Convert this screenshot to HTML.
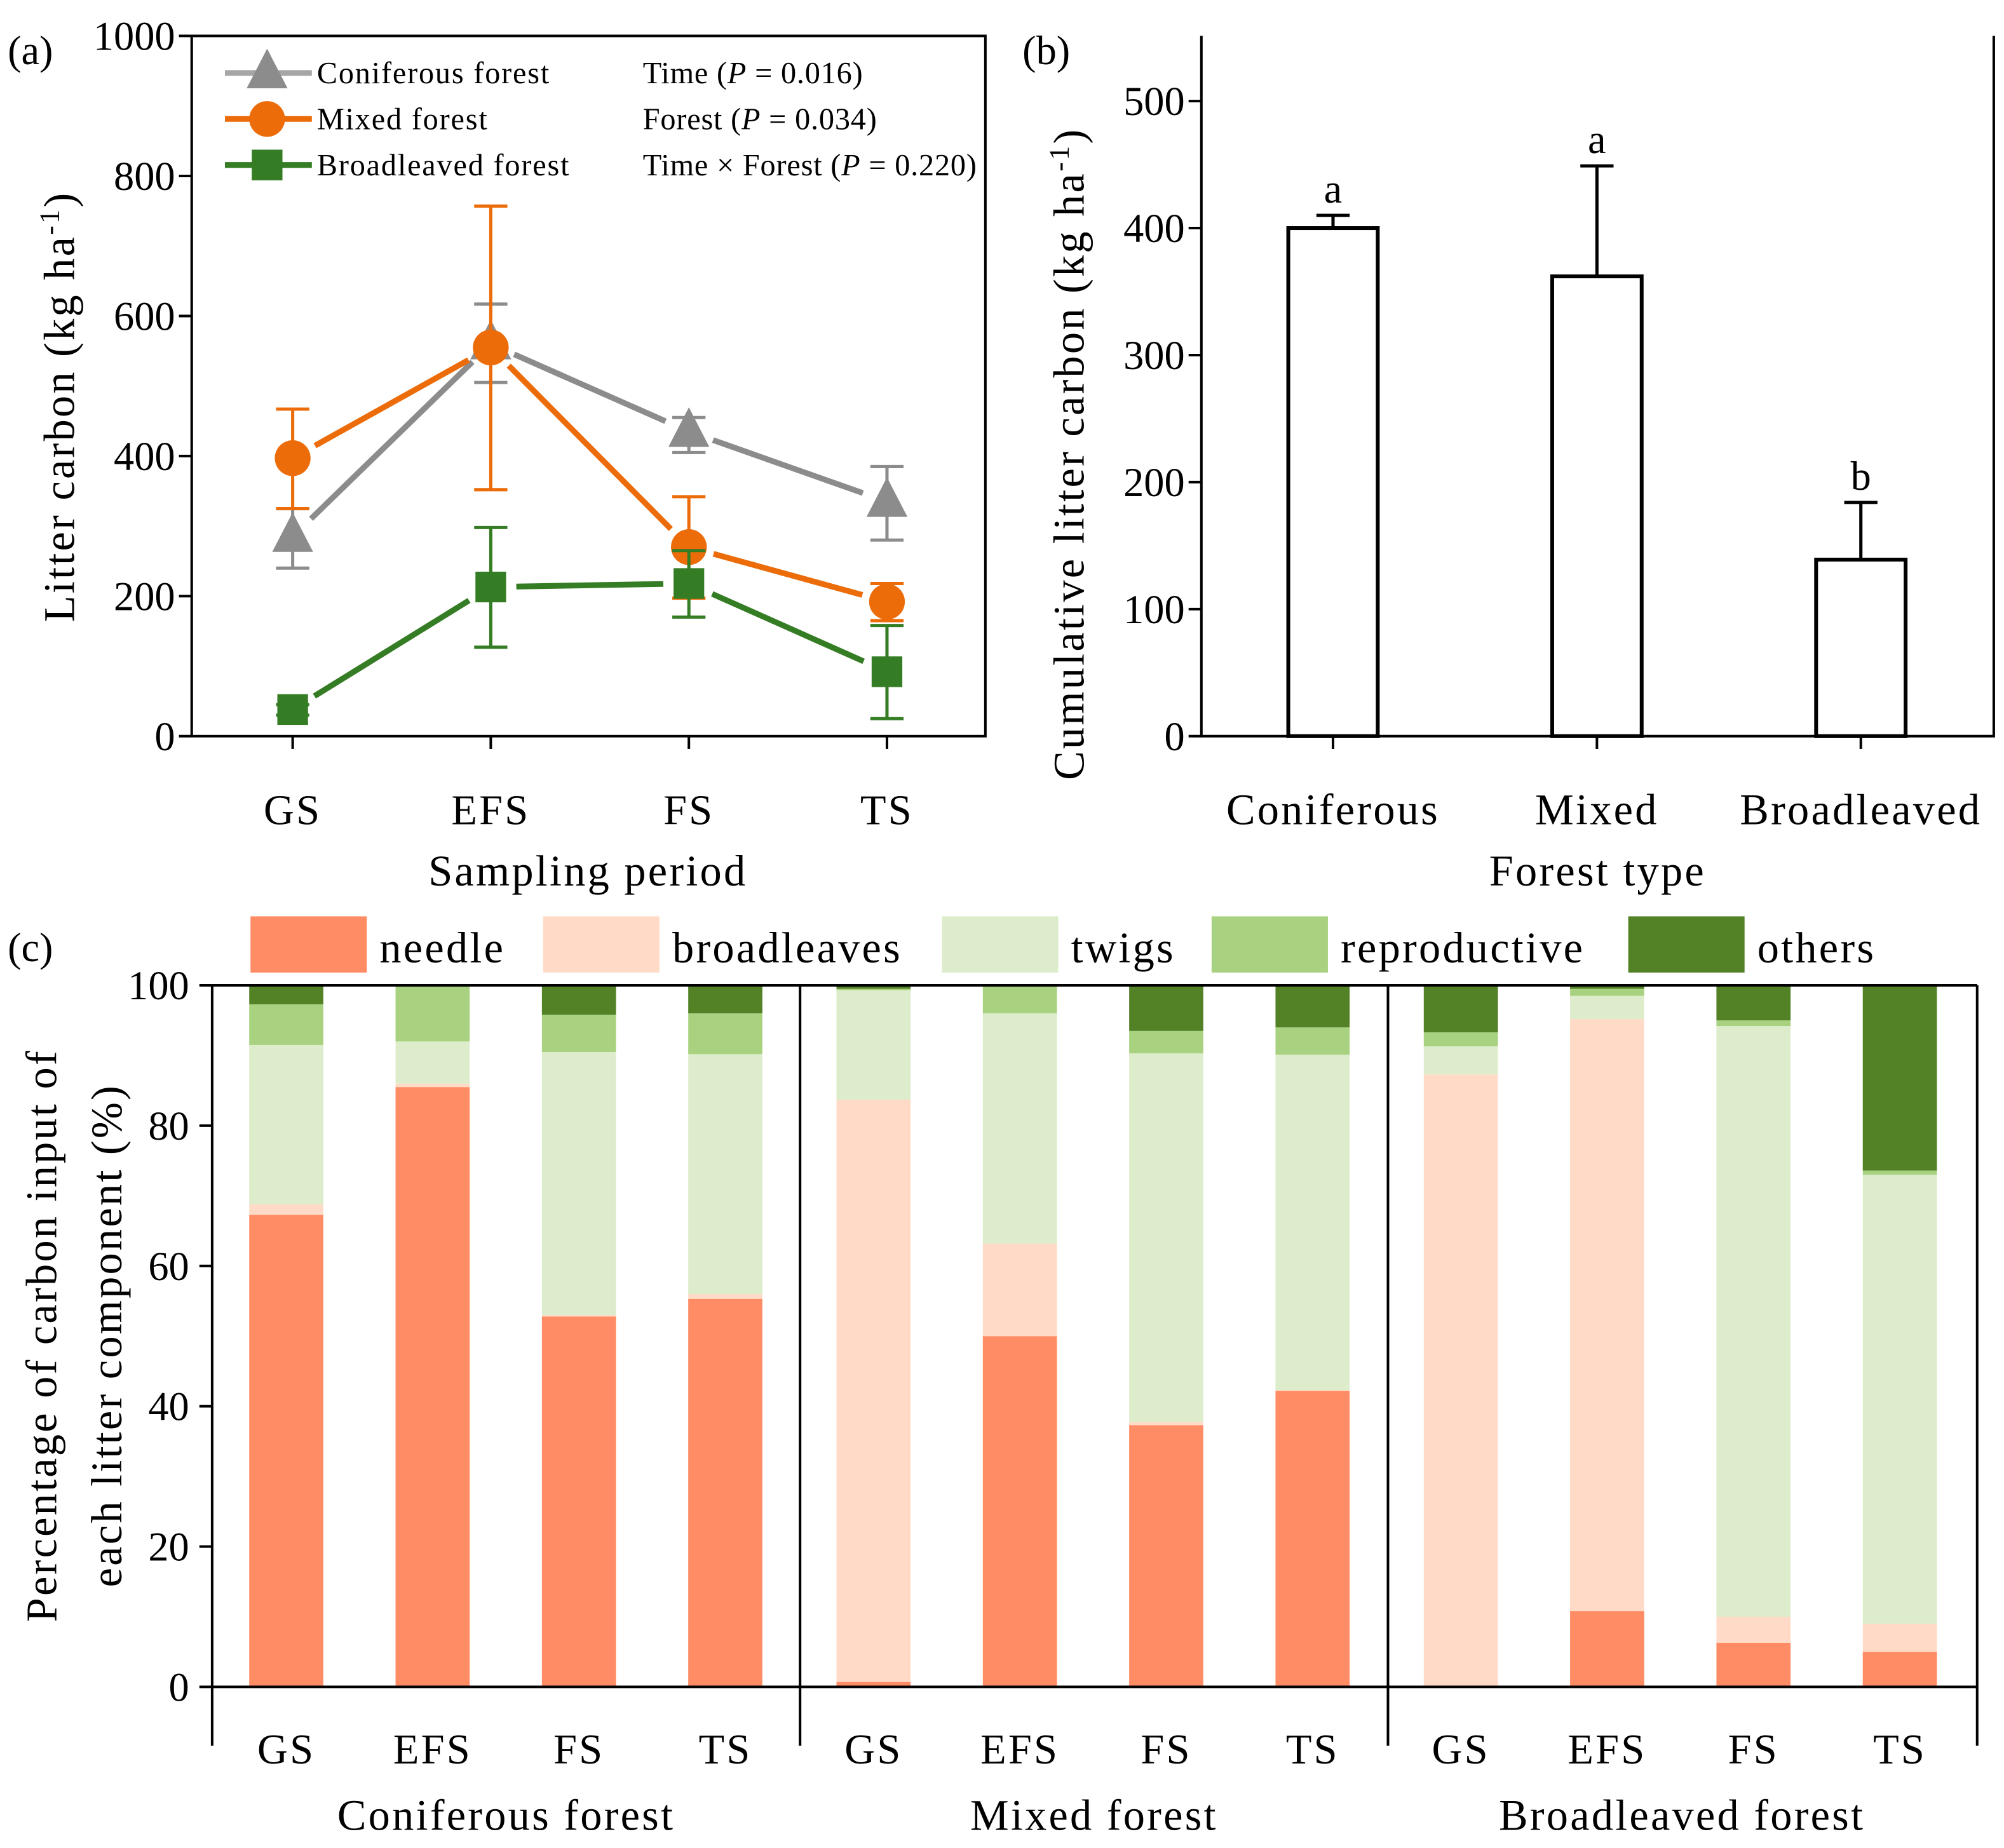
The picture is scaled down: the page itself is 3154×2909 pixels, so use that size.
<!DOCTYPE html>
<html><head><meta charset="utf-8"><style>
html,body{margin:0;padding:0;background:#fff}
svg{display:block}
text{font-family:"Liberation Serif",serif;fill:#000}
.w{letter-spacing:1.6px}
.wl{letter-spacing:0.9px}
.ws{letter-spacing:0.4px}
</style></head><body>
<svg id="fig" width="3154" height="2909" viewBox="0 0 1568 1446" xmlns="http://www.w3.org/2000/svg"></svg>
<script>
// ---- Panel (a) data ----
const periods = ["GS","EFS","FS","TS"];
const conMean = [285,560,435,335];
const conLo = [240,505,405,280];
const conHi = [325,617,455,385];
const mixMean = [397,555,270,192];
const mixLo = [325,352,197,165];
const mixHi = [467,757,342,218];
const broMean = [38,213,218,92];
const broLo = [30,127,170,25];
const broHi = [45,298,265,158];
const aTicks = [0,200,400,600,800,1000];
// ---- Panel (b) data ----
const forestTypes = ["Coniferous","Mixed","Broadleaved"];
const cumMean = [400,362,139];
const cumErr = [410,449,184];
const cumLetters = ["a","a","b"];
const bTicks = [0,100,200,300,400,500];
// ---- Panel (c) data (percent per component) ----
const groups = ["Coniferous forest","Mixed forest","Broadleaved forest"];
const components = ["needle","broadleaves","twigs","reproductive","others"];
const needle =      [67.3,85.5,52.8,55.3, 0.7,50.0,37.3,42.2, 0.0,10.8,6.3,5.0];
const broadleaves = [1.5,0.5,0.2,0.7, 83.0,13.2,0.5,0.1, 87.3,84.4,3.7,4.0];
const twigs =       [22.7,6.0,37.5,34.2, 15.6,32.8,52.5,47.8, 4.0,3.3,84.2,64.0];
const reproductive =[5.8,8.0,5.3,5.8, 0.2,4.0,3.2,3.9, 2.0,1.0,0.8,0.6];
const others =      [2.7,0.0,4.2,4.0, 0.5,0.0,6.5,6.0, 6.7,0.5,5.0,26.4];
const cTicks = [0,20,40,60,80,100];

const svg = document.getElementById('fig');
const NS = "http://www.w3.org/2000/svg";
function mk(tag, attrs, parent){const e=document.createElementNS(NS,tag);for(const k in attrs)e.setAttribute(k,attrs[k]);(parent||svg).appendChild(e);return e;}
function txt(s,x,y,size,anchor,parent,extra){const t=mk('text',Object.assign({x:x,y:y,'font-size':size,'text-anchor':anchor||'middle'},extra||{}),parent);t.textContent=s;return t;}

// ===== Panel (a) =====
const ga = mk('g',{});  
const ax0=150, ax1=771, ay0=28, ay1=576;
const ya = v => ay1 - (v/1000)*(ay1-ay0);
const xa = i => 229 + i*155;
const frameA = mk('rect',{x:ax0,y:ay0,width:ax1-ax0,height:ay1-ay0,fill:'none',stroke:'#000','stroke-width':2},ga);
 
aTicks.forEach(v=>{mk('line',{x1:ax0-10,x2:ax0,y1:ya(v),y2:ya(v),stroke:'#000','stroke-width':2},ga);
  const t=txt(String(v),ax0-13,ya(v)+11,32,'end',ga);  });
periods.forEach((p,i)=>{mk('line',{x1:xa(i),x2:xa(i),y1:ay1,y2:ay1+10,stroke:'#000','stroke-width':2},ga);
  const t=txt(p,xa(i),645,33,'middle',ga,{class:'w'});  });
const axt=txt('Sampling period',460,693,34,'middle',ga,{class:'w'});  
const ayt=txt('',0,0,34,'middle',ga,{transform:'translate(58,318) rotate(-90)',class:'w'});
ayt.innerHTML='Litter carbon (kg ha<tspan dy="-12" font-size="22">-1</tspan><tspan dy="12">)</tspan>';
 
const la=txt('(a)',6,50,32,'start',ga);  

function series(mean,lo,hi,color,shape,name){
  const g=mk('g',{},ga);  
  mean.forEach((m,i)=>{
    mk('line',{x1:xa(i),x2:xa(i),y1:ya(lo[i]),y2:ya(hi[i]),stroke:color,'stroke-width':2.5},g);
    mk('line',{x1:xa(i)-13,x2:xa(i)+13,y1:ya(lo[i]),y2:ya(lo[i]),stroke:color,'stroke-width':2.5},g);
    mk('line',{x1:xa(i)-13,x2:xa(i)+13,y1:ya(hi[i]),y2:ya(hi[i]),stroke:color,'stroke-width':2.5},g);
  });
  for(let i=0;i<mean.length-1;i++){
    const x1=xa(i),y1=ya(mean[i]),x2=xa(i+1),y2=ya(mean[i+1]);
    const dx=x2-x1,dy=y2-y1,L=Math.hypot(dx,dy),r=20;
    mk('line',{x1:x1+dx/L*r,y1:y1+dy/L*r,x2:x2-dx/L*r,y2:y2-dy/L*r,stroke:color,'stroke-width':4.5},g);
  }
  mean.forEach((m,i)=>marker(xa(i),ya(m),color,shape,g));
}
function marker(x,y,color,shape,g){
  if(shape==='tri') mk('polygon',{points:`${x},${y-19} ${x-16},${y+12} ${x+16},${y+12}`,fill:color},g);
  else if(shape==='circ') mk('circle',{cx:x,cy:y,r:14,fill:color},g);
  else mk('rect',{x:x-12,y:y-12,width:24,height:24,fill:color},g);
}
series(conMean,conLo,conHi,'#8c8c8c','tri','coniferous-series');
series(mixMean,mixLo,mixHi,'#ec6c0a','circ','mixed-series');
series(broMean,broLo,broHi,'#357d24','sq','broadleaved-series');
// legend a
const legA=[['Coniferous forest','#8c8c8c','tri','#a6a6a6'],['Mixed forest','#ec6c0a','circ','#ec6c0a'],['Broadleaved forest','#357d24','sq','#357d24']];
const stats=[['Time (','0.016)'],['Forest (','0.034)'],['Time × Forest (','0.220)']];
legA.forEach((l,i)=>{const y=57+i*36;const g=mk('g',{},ga);
  mk('line',{x1:176,x2:244,y1:y,y2:y,stroke:l[3],'stroke-width':4.5},g); marker(209,y,l[1],l[2],g);
  txt(l[0],248,y+8,24,'start',g,{class:'wl'});
  const s=txt('',503,y+8,24,'start',g,{class:'ws'}); s.innerHTML=stats[i][0]+'<tspan font-style="italic">P</tspan> = '+stats[i][1];
   });

// ===== Panel (b) =====
const gb=mk('g',{});  
const bx0=940,bx1=1560,by0=28,by1=576;
const yb=v=>by1-(v/500)*(576-79);
const xb=i=>1043+i*206.5;
mk('polyline',{points:`${bx0},${by0} ${bx0},${by1} ${bx1},${by1} ${bx1},${by0}`,fill:'none',stroke:'#000','stroke-width':2},gb);
bTicks.forEach(v=>{mk('line',{x1:bx0-10,x2:bx0,y1:yb(v),y2:yb(v),stroke:'#000','stroke-width':2},gb);
  const t=txt(String(v),bx0-13,yb(v)+11,32,'end',gb);  });
forestTypes.forEach((f,i)=>{
  const x=xb(i);
  mk('line',{x1:x,x2:x,y1:yb(cumMean[i]),y2:yb(cumErr[i]),stroke:'#000','stroke-width':2.5},gb);
  mk('line',{x1:x-13,x2:x+13,y1:yb(cumErr[i]),y2:yb(cumErr[i]),stroke:'#000','stroke-width':2.5},gb);
  const r=mk('rect',{x:x-35,y:yb(cumMean[i]),width:70,height:by1-yb(cumMean[i]),fill:'#fff',stroke:'#000','stroke-width':3},gb);
   
  const lt=txt(cumLetters[i],x,yb(cumErr[i])-10,32,'middle',gb);  
  mk('line',{x1:x,x2:x,y1:by1,y2:by1+10,stroke:'#000','stroke-width':2},gb);
  const t=txt(f,x,645,34,'middle',gb,{class:'w'});  
});
const bxt=txt('Forest type',1250,693,34,'middle',gb,{class:'w'});  
const byt=txt('',0,0,34,'middle',gb,{transform:'translate(848,355) rotate(-90)',class:'w'});
byt.innerHTML='Cumulative litter carbon  (kg ha<tspan dy="-12" font-size="22">-1</tspan><tspan dy="12">)</tspan>';
 
const lb=txt('(b)',800,50,32,'start',gb);  

// ===== Panel (c) =====
const gc=mk('g',{});  
const cx0=166,cx1=1547,cy0=771,cy1=1320;
const yc=v=>cy1-(v/100)*(cy1-cy0);
const colors=['#ff8c64','#ffdbc7','#ddecca','#a8d27f','#528126'];
const comps=[needle,broadleaves,twigs,reproductive,others];
const xc=k=>{const g=Math.floor(k/4),j=k%4;return 224+g*459.5+j*114.5;};
for(let k=0;k<12;k++){let base=0;
  comps.forEach((arr,c)=>{const v=arr[k];if(v>0){const r=mk('rect',{x:xc(k)-29,y:yc(base+v),width:58,height:yc(base)-yc(base+v),fill:colors[c]},gc);
     } base+=v;});
  const t=txt(periods[k%4],xc(k),1380,33,'middle',gc,{class:'w'});  
}
mk('line',{x1:cx0,x2:cx1,y1:cy0,y2:cy0,stroke:'#000','stroke-width':2},gc);
mk('line',{x1:cx0,x2:cx1,y1:cy1,y2:cy1,stroke:'#000','stroke-width':2},gc);
[cx0,626,1086,cx1].forEach(x=>mk('line',{x1:x,x2:x,y1:cy0,y2:1366,stroke:'#000','stroke-width':2},gc));
cTicks.forEach(v=>{mk('line',{x1:cx0-10,x2:cx0,y1:yc(v),y2:yc(v),stroke:'#000','stroke-width':2},gc);
  const t=txt(String(v),cx0-18,yc(v)+11,32,'end',gc);  });
groups.forEach((g,i)=>{const t=txt(g,396+i*460,1432,34,'middle',gc,{class:'w'});  });
const cyt=txt('Percentage of carbon input of',0,0,34,'middle',gc,{transform:'translate(44,1045) rotate(-90)',class:'w'});  
const cyt2=txt('each litter component (%)',0,0,34,'middle',gc,{transform:'translate(95,1045) rotate(-90)',class:'w'});  
const lc=txt('(c)',6,752,32,'start',gc);  
const legX=[196,425,737,948,1274];
components.forEach((c,i)=>{const g=mk('g',{},gc);
  mk('rect',{x:legX[i],y:717,width:91,height:44,fill:colors[i]},g); txt(c,legX[i]+101,753,34,'start',g,{class:'w'});});
</script>
</body></html>
